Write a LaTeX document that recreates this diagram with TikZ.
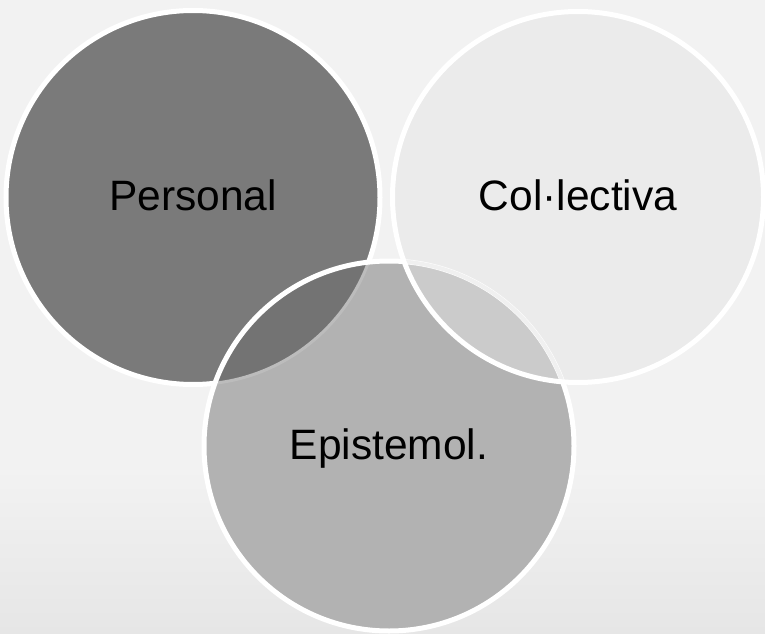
\documentclass[tikz,border=0pt]{standalone}
\usepackage{fontspec}
\setmainfont{Liberation Sans}
\usepackage{xcolor}
\usepackage{tikz}

\definecolor{fons}{HTML}{F2F2F2}
\definecolor{fonsbaix}{HTML}{E6E6E6}
\definecolor{grisfosc}{HTML}{7A7A7A}
\definecolor{grisclar}{HTML}{EBEBEB}
\definecolor{grismig}{HTML}{B2B2B2}
\definecolor{talltpe}{HTML}{737373}
\definecolor{talltce}{HTML}{CBCBCB}
\definecolor{vorafosca}{HTML}{BCBCBC}
\definecolor{voraclara}{HTML}{F0F0F0}

\begin{document}
\begin{tikzpicture}[x=1pt, y=1pt,
		rim/.style={draw=white, line width=5pt},
		lbl/.style={font=\fontsize{42.5}{50}\selectfont, anchor=base, inner sep=0pt}]
			\useasboundingbox (0,0) rectangle (765,633);
			% fons
			\fill[fons] (0,0) rectangle (765,633);
			\shade[top color=fons, bottom color=fonsbaix] (0,0) rectangle (765,165);
			\coordinate (p) at (193,435.5);
			\coordinate (c) at (578,436);
			\coordinate (e) at (389,187);
			% cercles
			\fill[grisfosc] (p) circle (187);
			\fill[grisclar] (c) circle (185.5);
			\draw[rim] (p) circle (187);
			\draw[rim] (c) circle (185.5);
			\begin{scope}
				\clip (e) circle (185);
				\fill[grismig] (e) circle (185);
				\fill[talltpe] (p) circle (187);
				\fill[talltce] (c) circle (185.5);
				\draw[draw=vorafosca, line width=3pt] (p) circle (187);
			\end{scope}
			% vores
			\draw[rim] (e) circle (185);
			\begin{scope}
				\clip (c) circle (183);
				\draw[draw=voraclara, line width=4pt] (e) circle (185);
			\end{scope}
			\begin{scope}
				\clip (e) circle (185);
				\draw[rim] (c) circle (185.5);
			\end{scope}
			% textos
			\node[lbl] (tpers) at ([yshift=-13pt]p) {Personal};
			\node[lbl] (tcoll) at ([yshift=-13pt]c) {Col·lectiva};
			\node[lbl] (tepis) at ([yshift=-13pt]e) {Epistemol.};
		\end{tikzpicture}
\end{document}
